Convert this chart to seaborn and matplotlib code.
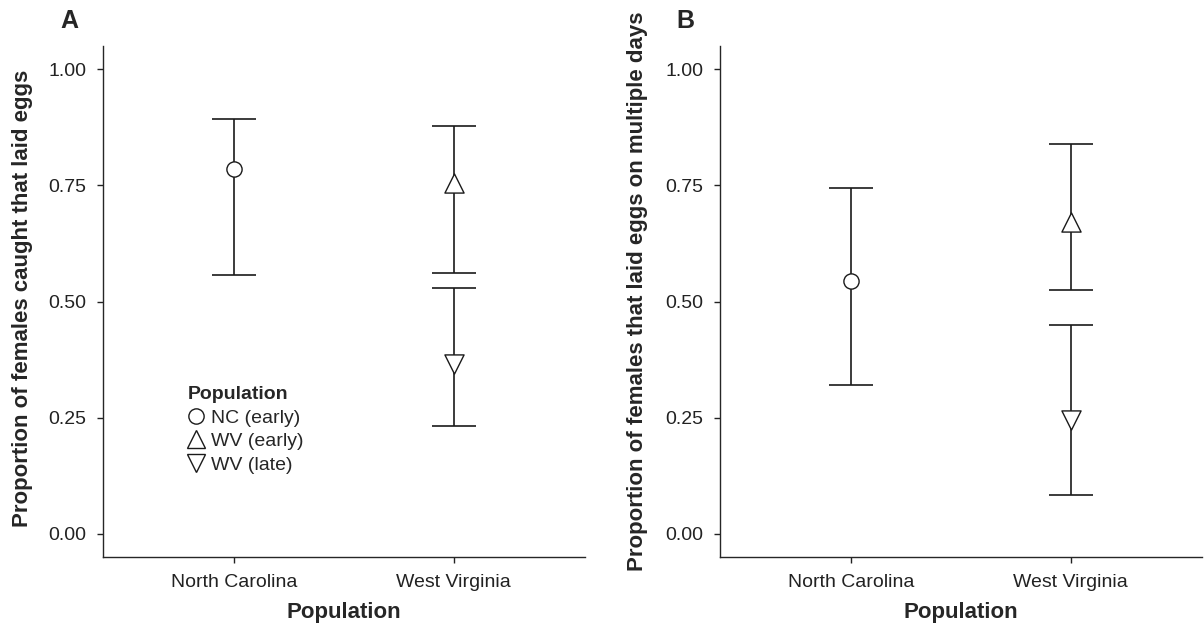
import matplotlib
matplotlib.use('Agg')
import matplotlib.pyplot as plt
import seaborn as sns
import pandas as pd
from matplotlib.lines import Line2D

# groups shown in both panels
groups = ["NC (early)", "WV (early)", "WV (late)"]
sites = ["North Carolina", "West Virginia", "West Virginia"]
site_order = ["North Carolina", "West Virginia"]
markers = {"NC (early)": "o", "WV (early)": "^", "WV (late)": "v"}

# panel A: proportion of females caught that laid eggs
a_mean = [0.785, 0.756, 0.366]
a_low = [0.557, 0.561, 0.231]
a_high = [0.892, 0.878, 0.530]

# panel B: proportion of females that laid eggs on multiple days
b_mean = [0.544, 0.672, 0.244]
b_low = [0.321, 0.525, 0.083]
b_high = [0.744, 0.838, 0.450]

yticks = [0.0, 0.25, 0.50, 0.75, 1.00]

sns.set_style("ticks")
plt.rcParams['font.family'] = ['Liberation Sans', 'DejaVu Sans']
plt.rcParams['axes.linewidth'] = 1.0

fig = plt.figure(figsize=(12.04, 6.27), dpi=100)
ax_a = fig.add_axes([103 / 1204, 70 / 627, 482 / 1204, 511 / 627])
ax_b = fig.add_axes([720 / 1204, 70 / 627, 482 / 1204, 511 / 627])


def draw_panel(ax, mean, low, high, ylabel, label_x, label_y):
    df = pd.DataFrame({
        "group": groups,
        "site": sites,
        "mean": mean,
        "low": low,
        "high": high,
    })
    df["x"] = df["site"].map({s: i for i, s in enumerate(site_order)})

    for _, row in df.iterrows():
        ax.errorbar(row["x"], row["mean"],
                    yerr=[[row["mean"] - row["low"]], [row["high"] - row["mean"]]],
                    fmt="none", ecolor="#1a1a1a", elinewidth=1.2,
                    capsize=15.5, capthick=1.2, zorder=2)

    for g, sub in df.groupby("group"):
        size = 120 if markers[g] == "o" else 190
        sns.scatterplot(data=sub, x="x", y="mean", marker=markers[g], s=size,
                        color="white", edgecolor="#1a1a1a", linewidth=1.0,
                        ax=ax, zorder=3, legend=False)

    ax.set_xlim(-0.6, 1.6)
    ax.set_ylim(-0.05, 1.05)
    ax.set_xticks(range(len(site_order)))
    ax.set_xticklabels(site_order, fontsize=14, color="#222222")
    ax.set_yticks(yticks)
    ax.set_yticklabels([f"{t:.2f}" for t in yticks], fontsize=14, color="#222222")
    ax.tick_params(axis="both", length=4, width=1, pad=8, color="#222222")
    ax.set_xlabel("Population", fontsize=16, fontweight="bold", labelpad=8)
    ax.set_ylabel(ylabel, fontsize=16, fontweight="bold")
    ax.yaxis.set_label_coords(label_x, label_y)
    sns.despine(ax=ax)


draw_panel(ax_a, a_mean, a_low, a_high,
           "Proportion of females caught that laid eggs", -0.145, 0.507)
draw_panel(ax_b, b_mean, b_low, b_high,
           "Proportion of females that laid eggs on multiple days", -0.149, 0.52)

handles = [Line2D([], [], linestyle="none", marker=markers[g],
                  markersize=11 if markers[g] == "o" else 13.5,
                  markerfacecolor="white", markeredgecolor="#1a1a1a",
                  markeredgewidth=1.0, label=g) for g in groups]
leg = ax_a.legend(handles=handles, title="Population", loc="upper left",
                  bbox_to_anchor=(0.155, 0.353), frameon=False, fontsize=14,
                  title_fontproperties={"weight": "bold", "size": 14},
                  handlelength=0.9, handletextpad=0.3, labelspacing=0.3,
                  borderpad=0, alignment="left")

fig.text(60 / 1204, 1 - 21 / 627, "A", fontsize=18, fontweight="bold",
         va="center", ha="left")
fig.text(676 / 1204, 1 - 21 / 627, "B", fontsize=18, fontweight="bold",
         va="center", ha="left")

plt.savefig("out.png", dpi=100, facecolor="white")
plt.close()
